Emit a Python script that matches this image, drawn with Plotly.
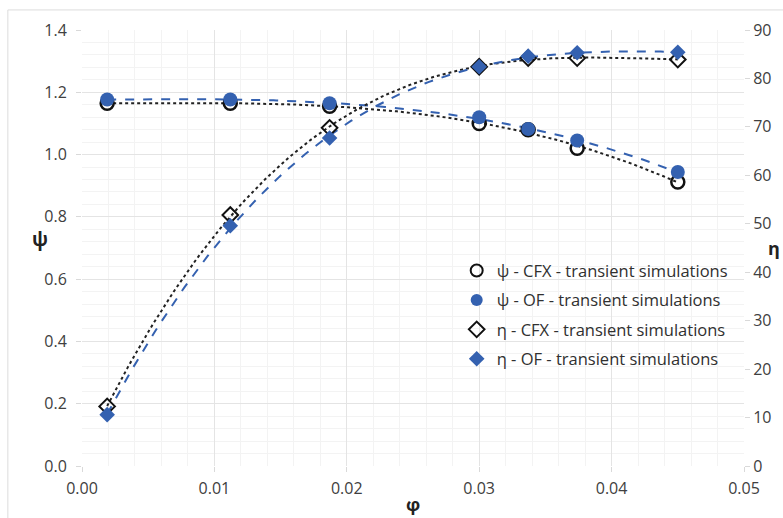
import numpy as np
import plotly.graph_objects as go

# Data (flow coefficient phi)
phi = [0.0019, 0.0112, 0.0187, 0.0300, 0.0337, 0.0374, 0.0450]
psi_cfx = [1.165, 1.165, 1.155, 1.100, 1.080, 1.020, 0.912]
psi_of = [1.177, 1.177, 1.165, 1.120, 1.082, 1.045, 0.944]
eta_cfx = [12.3, 51.8, 69.8, 82.4, 84.2, 84.2, 83.9]
eta_of = [10.6, 49.6, 67.7, 82.4, 84.6, 85.3, 85.4]

names = ["ψ - CFX - transient simulations", "ψ - OF - transient simulations",
         "η - CFX - transient simulations", "η - OF - transient simulations"]

BLUE = "#3461b0"
FONT = "Open Sans"

fig = go.Figure()

xs = np.linspace(min(phi), max(phi), 200)

def trend(y, order):
    c = np.polyfit(phi, y, order)
    return np.polyval(c, xs)

# trendlines
fig.add_trace(go.Scatter(x=xs, y=trend(psi_cfx, 3), mode="lines", showlegend=False,
                         line=dict(color="#222222", width=2, dash="dot"), hoverinfo="skip"))
fig.add_trace(go.Scatter(x=xs, y=trend(psi_of, 3), mode="lines", showlegend=False,
                         line=dict(color=BLUE, width=2, dash="dash"), hoverinfo="skip"))
fig.add_trace(go.Scatter(x=xs, y=trend(eta_cfx, 3), mode="lines", showlegend=False, yaxis="y2",
                         line=dict(color="#222222", width=2, dash="dot"), hoverinfo="skip"))
fig.add_trace(go.Scatter(x=xs, y=trend(eta_of, 3), mode="lines", showlegend=False, yaxis="y2",
                         line=dict(color=BLUE, width=2, dash="dash"), hoverinfo="skip"))

# markers
fig.add_trace(go.Scatter(x=phi, y=psi_cfx, mode="markers", name=names[0], legendgroup="a",
                         marker=dict(symbol="circle-open", size=13, color="#111111",
                                     line=dict(width=2.5, color="#111111"))))
fig.add_trace(go.Scatter(x=phi, y=psi_of, mode="markers", name=names[1], legendgroup="b",
                         marker=dict(symbol="circle", size=14, color=BLUE)))
fig.add_trace(go.Scatter(x=phi, y=eta_cfx, mode="markers", name=names[2], yaxis="y2", legendgroup="c",
                         marker=dict(symbol="diamond-open", size=12, color="#111111",
                                     line=dict(width=2, color="#111111"))))
fig.add_trace(go.Scatter(x=phi, y=eta_of, mode="markers", name=names[3], yaxis="y2", legendgroup="d",
                         marker=dict(symbol="diamond", size=12, color=BLUE)))

tickfont = dict(family=FONT, size=16, color="#404040")

fig.update_layout(
    width=783, height=518,
    margin=dict(l=82, r=39, t=30, b=52),
    paper_bgcolor="white", plot_bgcolor="white",
    font=dict(family=FONT, color="#404040"),
    xaxis=dict(range=[0, 0.05], dtick=0.01, tickformat=".2f", tickfont=tickfont,
               showgrid=True, gridcolor="#e4e4e4", gridwidth=1,
               minor=dict(dtick=0.002, showgrid=True, gridcolor="#f3f3f3", gridwidth=1),
               ticks="outside", ticklen=5, tickcolor="#d9d9d9", ticklabelstandoff=3,
               zeroline=False, showline=False),
    yaxis=dict(range=[0, 1.4], dtick=0.2, tickformat=".1f", tickfont=tickfont,
               showgrid=True, gridcolor="#e4e4e4", gridwidth=1,
               minor=dict(dtick=0.04, showgrid=True, gridcolor="#f3f3f3", gridwidth=1),
               ticks="outside", ticklen=5, tickcolor="#d9d9d9", ticklabelstandoff=6,
               zeroline=False, showline=False),
    yaxis2=dict(range=[0, 90], dtick=10, overlaying="y", side="right", tickfont=tickfont,
                showgrid=False, ticks="outside", ticklen=5, tickcolor="#d9d9d9",
                zeroline=False, showline=False),
    legend=dict(x=0.566, y=0.488, xanchor="left", yanchor="top",
                bgcolor="rgba(255,255,255,0)", font=dict(family=FONT, size=16.5, color="#303030"),
                itemsizing="constant", tracegroupgap=5, itemwidth=30),
    showlegend=True,
)

# axis titles
fig.add_annotation(text="<b>ψ</b>", x=-0.078, y=0.52, xref="paper", yref="paper",
                   showarrow=False, font=dict(family=FONT, size=19, color="#222222"))
fig.add_annotation(text="<b>φ</b>", x=0.5, y=-0.119, xref="paper", yref="paper",
                   showarrow=False, yanchor="bottom", font=dict(family=FONT, size=18, color="#222222"))
fig.add_annotation(text="<b>η</b>", x=1.058, y=0.50, xref="paper", yref="paper",
                   showarrow=False, xanchor="right", font=dict(family=FONT, size=18, color="#222222"))

# chart area border
fig.add_shape(type="rect", xref="paper", yref="paper", x0=-0.112, y0=-0.2, x1=1.2, y1=1.046,
              line=dict(color="#dcdcdc", width=1), layer="below")

fig.write_html("out.html")
